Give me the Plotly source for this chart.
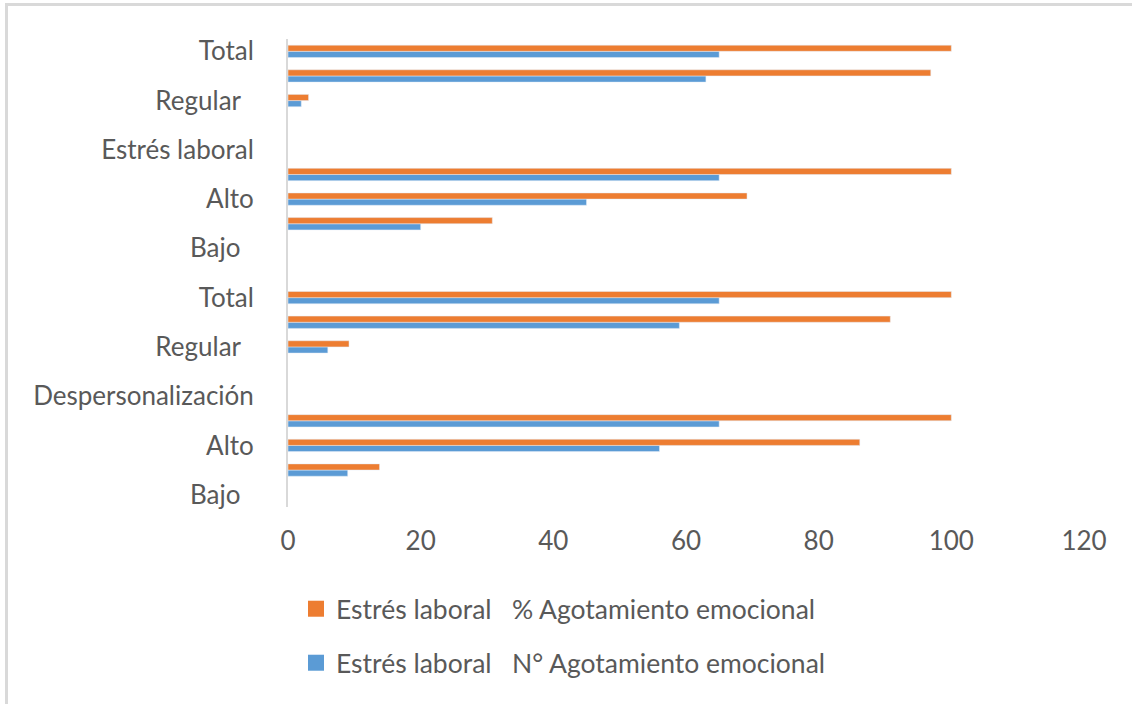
import plotly.graph_objects as go

# Row labels, listed bottom to top; blank rows carry bars but no printed label
categories = [
    "Bajo", "", "Alto", "", "Despersonalización", "",
    "Regular", "", "Total", "", "Bajo", "", "Alto", "",
    "Estrés laboral", "", "Regular", "", "Total",
]
# N° Agotamiento emocional (counts)
n_agotamiento = [None, 9, 56, 65, None, None, 6, 59, 65, None,
                 None, 20, 45, 65, None, None, 2, 63, 65]
# % Agotamiento emocional
pct_agotamiento = [None, 13.8, 86.2, 100, None, None, 9.2, 90.8, 100, None,
                   None, 30.8, 69.2, 100, None, None, 3.1, 96.9, 100]
x_ticks = [0, 20, 40, 60, 80, 100, 120]

name_pct = "Estrés laboral\u00a0\u00a0\u00a0% Agotamiento emocional"
name_n = "Estrés laboral\u00a0\u00a0\u00a0N° Agotamiento emocional"

ORANGE = "#ED7D31"
BLUE = "#5B9BD5"
TEXT = "#595959"
FONT = "Lato"
FS = 26

pos = list(range(len(categories)))
tick_pos = [p for p, c in zip(pos, categories) if c]
tick_txt = []
for c in categories:
    if not c:
        continue
    # short labels sit a little left of the others
    tick_txt.append(c + "\u00a0\u00a0" if c in ("Regular", "Bajo") else c)

fig = go.Figure()
fig.add_trace(go.Bar(y=pos, x=n_agotamiento, orientation="h",
                     marker_color=BLUE, name=name_n, showlegend=False))
fig.add_trace(go.Bar(y=pos, x=pct_agotamiento, orientation="h",
                     marker_color=ORANGE, name=name_pct, showlegend=False))

# legend entries with square swatches
fig.add_trace(go.Scatter(x=[None], y=[None], mode="markers", name=name_pct,
                         marker=dict(symbol="square", size=16, color=ORANGE),
                         legend="legend"))
fig.add_trace(go.Scatter(x=[None], y=[None], mode="markers", name=name_n,
                         marker=dict(symbol="square", size=16, color=BLUE),
                         legend="legend2"))

W, H = 1132, 704
L, R, T, B = 288, 48, 39, 197
ph = H - T - B
pw = W - L - R


def py(y):
    return (H - B - y) / ph


def px(x):
    return (x - L) / pw


legend_common = dict(font=dict(family=FONT, size=FS + 0.5, color=TEXT),
                     bgcolor="rgba(0,0,0,0)", xanchor="left", yanchor="middle",
                     xref="paper", yref="paper")

fig.update_layout(
    width=W, height=H,
    margin=dict(l=L, r=R, t=T, b=B, autoexpand=False),
    paper_bgcolor="white", plot_bgcolor="white",
    barmode="group", bargap=0.5, bargroupgap=0,
    font=dict(family=FONT, size=FS, color=TEXT),
    xaxis=dict(range=[0, 120], tickvals=x_ticks, showgrid=False,
               zeroline=False, showline=False, ticks="",
               ticklabelstandoff=16,
               tickfont=dict(family=FONT, size=FS, color=TEXT)),
    yaxis=dict(range=[-0.5, len(categories) - 0.5], tickvals=tick_pos,
               ticktext=tick_txt, showgrid=False, zeroline=False,
               showline=True, linecolor="#D9D9D9", linewidth=2, ticks="",
               ticklabelstandoff=27,
               tickfont=dict(family=FONT, size=FS, color=TEXT)),
    legend=dict(x=px(296), y=py(609), **legend_common),
    legend2=dict(x=px(296), y=py(663), **legend_common),
    shapes=[dict(type="rect", xref="paper", yref="paper",
                 x0=px(6.5), x1=px(W + 50), y0=py(H + 50), y1=py(4.5),
                 line=dict(color="#D9D9D9", width=3), layer="below")],
)

fig.write_html("out.html")
